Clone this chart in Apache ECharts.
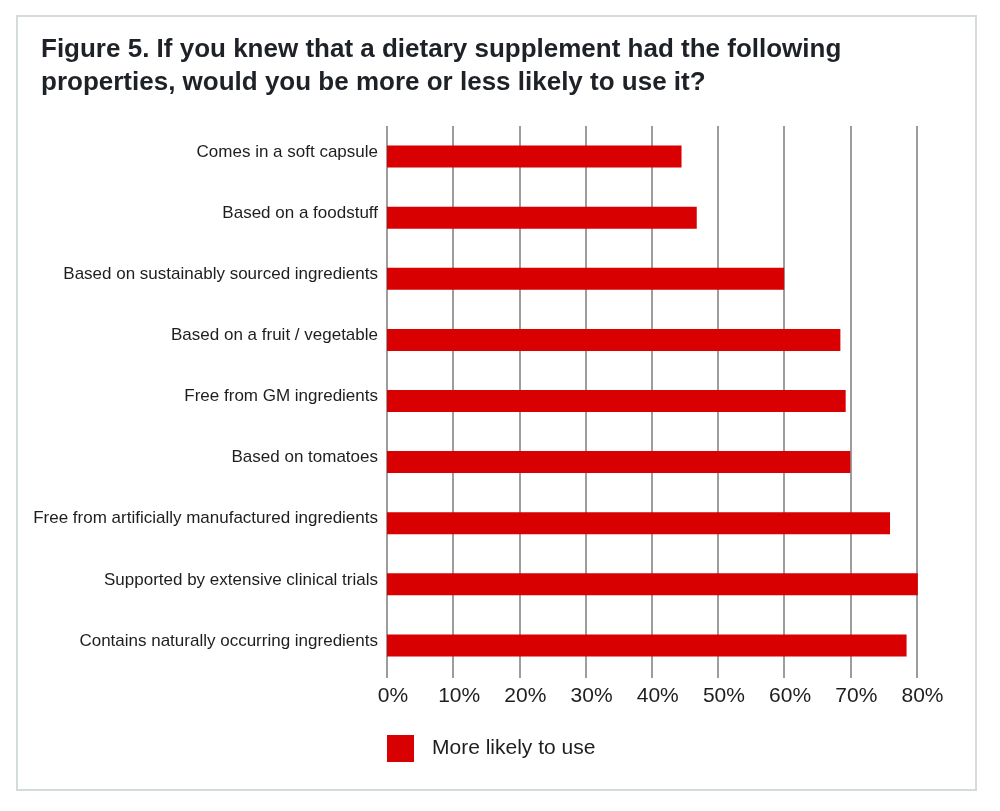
<!DOCTYPE html>
<html>
<head>
<meta charset="utf-8">
<style>
  html, body { margin: 0; padding: 0; background: #fff; }
  #chart-container { width: 1000px; height: 811px; }
</style>
<script src="https://cdn.jsdelivr.net/npm/echarts@6/dist/echarts.min.js"></script>
</head>
<body>
<div id="chart-container"></div>
<script>
var categories = [
  "Comes in a soft capsule",
  "Based on a foodstuff",
  "Based on sustainably sourced ingredients",
  "Based on a fruit / vegetable",
  "Free from GM ingredients",
  "Based on tomatoes",
  "Free from artificially manufactured ingredients",
  "Supported by extensive clinical trials",
  "Contains naturally occurring ingredients"
];
var moreLikely = [44.5, 46.8, 60.0, 68.5, 69.3, 70.0, 76.0, 80.2, 78.5];
var seriesName = "More likely to use";
var titleText = "Figure 5. If you knew that a dietary supplement had the following\nproperties, would you be more or less likely to use it?";

var font = "'Liberation Sans', Arial, Helvetica, sans-serif";

var dom = document.getElementById('chart-container');
var myChart = echarts.init(dom, null, { renderer: 'canvas' });

var option = {
  backgroundColor: '#ffffff',
  animation: false,
  textStyle: { fontFamily: font },
  title: {
    text: titleText,
    left: 41,
    top: 33,
    padding: 0,
    textStyle: {
      fontFamily: font,
      fontSize: 26,
      fontWeight: 'bold',
      lineHeight: 33,
      color: '#1e2226'
    }
  },
  graphic: [{
    type: 'rect',
    shape: { x: 17, y: 16, width: 959, height: 774 },
    style: { fill: 'none', stroke: '#d3dcdb', lineWidth: 2 },
    silent: true,
    z: -1
  }],
  legend: {
    data: [seriesName],
    left: 387,
    top: 735,
    padding: 0,
    itemWidth: 27,
    itemHeight: 27,
    icon: 'rect',
    textStyle: {
      fontFamily: font,
      fontSize: 21,
      color: '#1e1e1e',
      padding: [0, 0, 0, 13]
    }
  },
  grid: {
    left: 387,
    right: 83.5,
    top: 126,
    height: 550,
    containLabel: false
  },
  xAxis: {
    type: 'value',
    min: 0,
    max: 80,
    interval: 10,
    axisLine: { show: false },
    axisTick: { show: true, length: 2, lineStyle: { color: '#7d7d7d', width: 1.5 } },
    splitLine: { show: true, lineStyle: { color: '#7d7d7d', width: 1.5 } },
    axisLabel: {
      formatter: '{value}%',
      fontFamily: font,
      fontSize: 21,
      color: '#1e1e1e',
      margin: 10,
      padding: [0, 0, 0, 12]
    }
  },
  yAxis: {
    type: 'category',
    data: categories,
    inverse: true,
    axisLine: { show: false },
    axisTick: { show: false },
    axisLabel: {
      margin: 9,
      formatter: function (v) { return '{c|' + v + '}'; },
      rich: {
        c: {
          fontFamily: font,
          fontSize: 17,
          color: '#1e1e1e',
          lineHeight: 17,
          padding: [0, 0, 9, 0]
        }
      }
    }
  },
  series: [{
    name: seriesName,
    type: 'bar',
    data: moreLikely,
    barWidth: 22,
    clip: false,
    itemStyle: { color: '#d80000' },
    z: 3
  }]
};

myChart.setOption(option);
window.addEventListener('resize', myChart.resize);
</script>
</body>
</html>
